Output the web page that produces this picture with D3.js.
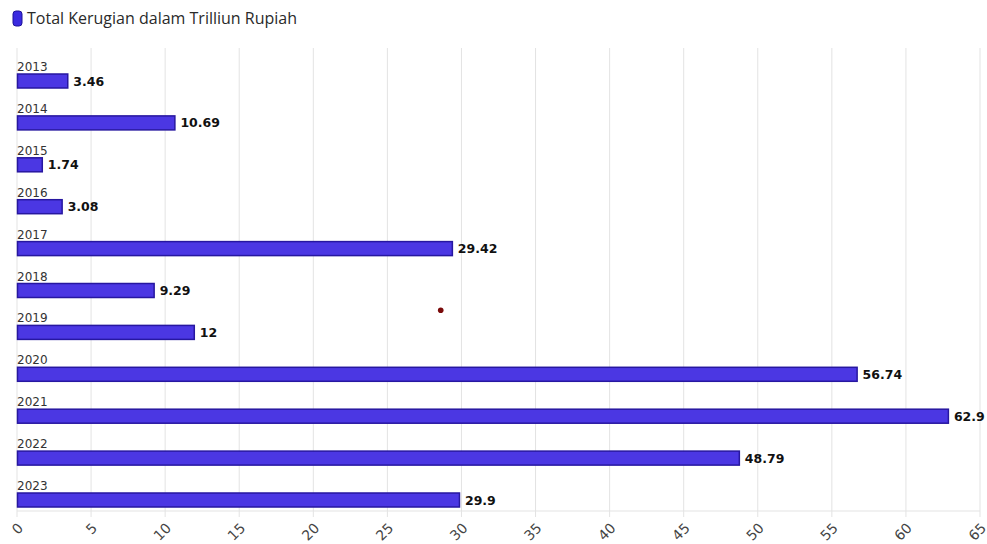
<!DOCTYPE html>
<html><head><meta charset="utf-8">
<script src="https://cdn.jsdelivr.net/npm/d3@7/dist/d3.min.js"></script>
<style>body{margin:0;background:#fff;overflow:hidden}</style>
</head><body>
<svg id="c" width="987" height="544"></svg>
<script>
const years = ["2013","2014","2015","2016","2017","2018","2019","2020","2021","2022","2023"];
const losses = [3.46,10.69,1.74,3.08,29.42,9.29,12,56.74,62.9,48.79,29.9];
const ticks = [0,5,10,15,20,25,30,35,40,45,50,55,60,65];
const legendLabel = "Total Kerugian dalam Trilliun Rupiah";
const strayDot = [{value:28.6, pos:5.47}];

const svg = d3.select("#c");
const x = d3.scaleLinear().domain([0,65]).range([17,980]);
const y = d3.scalePoint().domain(years).range([81,500]);
const yIdx = d3.scaleLinear().domain([0,years.length-1]).range([81,500]);
const barH = 14;
const axisY = 511;

// grid
svg.append("g").selectAll("line").data(ticks).join("line")
  .attr("x1",d=>x(d)).attr("x2",d=>x(d)).attr("y1",48).attr("y2",axisY+6)
  .attr("stroke","#e3e3e3").attr("stroke-width",1);
svg.append("line").attr("x1",x(0)).attr("x2",x(65)).attr("y1",axisY).attr("y2",axisY)
  .attr("stroke","#e3e3e3");

// axis labels
svg.append("g").selectAll("text").data(ticks).join("text")
  .attr("transform",d=>`translate(${x(d)+7},${axisY+18}) rotate(-45)`)
  .attr("text-anchor","end").attr("font-family","DejaVu Sans").attr("font-size",14)
  .attr("fill","#444").text(d=>d);

// bars
svg.append("g").selectAll("rect").data(years).join("rect")
  .attr("x",x(0)+0.5).attr("y",(d)=>y(d)-barH/2)
  .attr("width",(d,i)=>x(losses[i])-x(0)-1).attr("height",barH)
  .attr("fill","#4b37e3").attr("stroke","#2717a0").attr("stroke-width",1.5);

// year labels
svg.append("g").selectAll("text").data(years).join("text")
  .attr("x",x(0)).attr("y",d=>y(d)-barH/2-3)
  .attr("font-family","DejaVu Sans").attr("font-size",12).attr("fill","#333").text(d=>d);

// value labels
svg.append("g").selectAll("text").data(years).join("text")
  .attr("x",(d,i)=>x(losses[i])+5).attr("y",d=>y(d)+4.5)
  .attr("font-family","DejaVu Sans").attr("font-weight","bold").attr("font-size",12.5)
  .attr("fill","#111").text((d,i)=>losses[i]);

// stray dot
svg.append("g").selectAll("circle").data(strayDot).join("circle")
  .attr("cx",d=>x(d.value)).attr("cy",d=>yIdx(d.pos)).attr("r",2.8).attr("fill","#7a0a0a");

// legend
svg.append("rect").attr("x",13).attr("y",11).attr("width",9).attr("height",15).attr("rx",3)
  .attr("fill","#3a2ae0").attr("stroke","#1f1399").attr("stroke-width",1);
svg.append("text").attr("x",27).attr("y",24).attr("font-family","Open Sans").attr("font-size",16)
  .attr("fill","#2a2a2a").text(legendLabel);
</script>
</body></html>
